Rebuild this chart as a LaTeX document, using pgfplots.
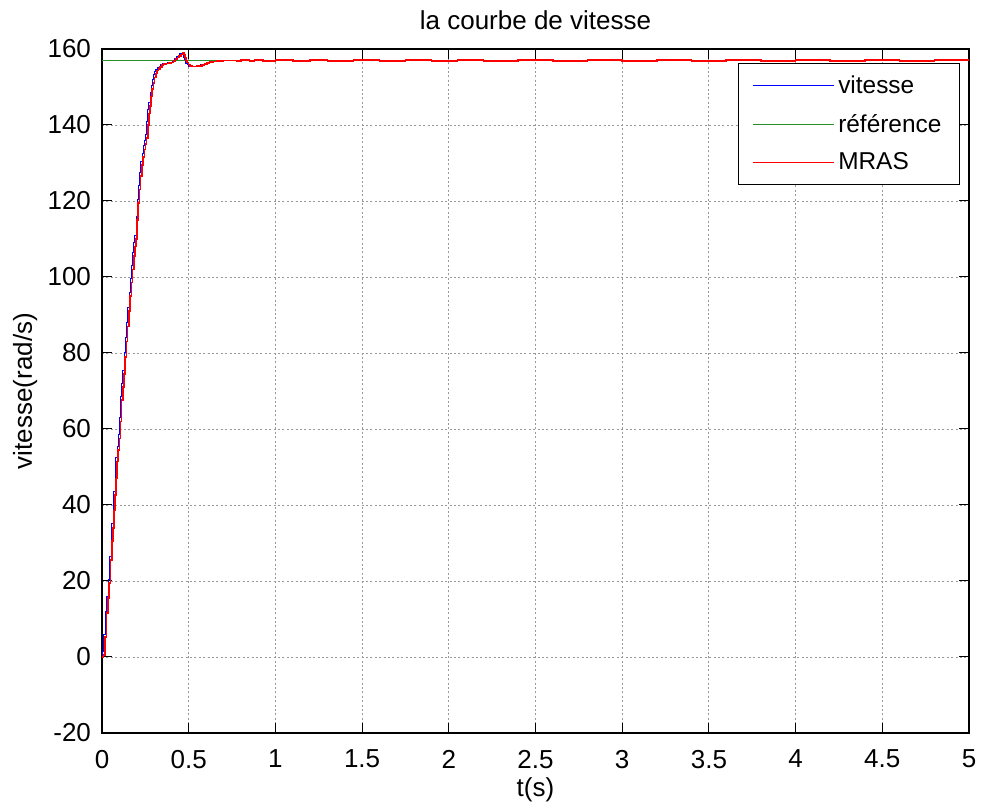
\documentclass[border=0pt]{standalone}
\usepackage{pgfplots}
\pgfplotsset{compat=1.18}
\usepackage{fontspec}
\setmainfont{Liberation Sans}
\definecolor{mgreen}{rgb}{0.15,0.55,0.15}
\pgfplotstableread{
t v
0 0
0.004 1.5
0.010 5.8
0.020 12.0
0.028 16.0
0.035 20.5
0.044 26.5
0.052 31.5
0.056 35
0.064 39.5
0.069 43.6
0.075 48
0.080 52.4
0.087 55.5
0.094 58.5
0.100 63
0.107 68.6
0.114 72
0.121 75.5
0.128 80
0.135 84
0.142 88
0.149 92
0.156 96
0.163 99.5
0.170 103
0.177 106.5
0.184 109
0.190 111
0.197 116
0.203 120.4
0.210 124
0.217 127.5
0.224 130.5
0.231 132.5
0.238 134.5
0.245 136
0.251 137.5
0.258 141
0.264 144
0.270 146
0.277 148.5
0.284 150.5
0.290 152
0.297 153.2
0.304 154
0.311 154.6
0.319 155
0.329 155.5
0.339 155.9
0.349 156.1
0.364 156.3
0.379 156.4
0.394 156.5
0.406 156.9
0.419 157.4
0.429 157.9
0.439 158.3
0.449 158.7
0.459 158.9
0.466 158.6
0.472 157.8
0.478 157.0
0.484 156.3
0.492 155.8
0.501 155.5
0.512 155.3
0.524 155.3
0.539 155.4
0.554 155.6
0.569 155.8
0.584 156.0
0.599 156.3
0.614 156.5
0.634 156.7
0.654 156.8
0.674 157.0
0.694 157.0
0.734 157.0
5 157.0
}\vitesse
\pgfplotstableread{
t v
0 0
0.008 0.5
0.016 5.2
0.026 11.5
0.034 15.5
0.041 19.4
0.050 25.5
0.058 30.5
0.062 34
0.070 38.5
0.075 42.6
0.081 47
0.086 51.4
0.093 54.5
0.100 57.5
0.106 62
0.113 67.6
0.120 71
0.127 74.5
0.134 79
0.141 83
0.148 87
0.155 91
0.162 95
0.169 98.5
0.176 102
0.183 105.5
0.190 108
0.196 110
0.203 115
0.209 119.4
0.216 123
0.223 126.5
0.230 129.5
0.237 131.5
0.244 133.5
0.251 135
0.257 136.5
0.264 140
0.270 143
0.276 145
0.283 147.5
0.290 149.5
0.296 151
0.303 152.5
0.310 153.5
0.317 154.3
0.325 154.8
0.335 155.3
0.345 155.8
0.355 156.0
0.370 156.2
0.385 156.3
0.400 156.4
0.412 156.8
0.425 157.3
0.435 157.8
0.445 158.2
0.455 158.6
0.465 158.9
0.472 158.6
0.478 157.8
0.484 157.0
0.490 156.4
0.498 155.9
0.507 155.6
0.518 155.4
0.530 155.4
0.545 155.5
0.560 155.6
0.575 155.8
0.590 156.0
0.605 156.3
0.620 156.5
0.640 156.7
0.660 156.8
0.680 156.9
0.700 157.0
0.740 157.0
0.780 156.9
0.800 157.1
0.850 156.9
0.880 157.1
0.930 156.9
1.000 157.1
1.100 156.9
1.200 157.1
1.300 156.9
1.450 157.1
1.600 156.9
1.750 157.1
1.900 156.9
2.050 157.1
2.200 156.9
2.400 157.1
2.600 156.9
2.800 157.1
3.000 156.9
3.200 157.1
3.400 156.9
3.600 157.1
3.800 156.9
4.000 157.1
4.200 156.9
4.400 157.1
4.600 156.9
4.800 157.1
5.000 157.0
}\mras
\begin{document}
\fontsize{13}{15.6}\selectfont
\begin{tikzpicture}
\begin{axis}[
  at={(0,0)}, anchor=south west,
  scale only axis,
  width=433.5pt, height=342pt,
  xmin=0, xmax=5, ymin=-20, ymax=160,
  xtick={0,0.5,...,5},
  ytick={-20,0,...,160},
  xticklabels={0,0.5,1,1.5,2,2.5,3,3.5,4,4.5,5},
  /pgf/number format/assume math mode=true,
  tick align=inside,
  major tick length=5pt,
  tick style={black, line width=0.5pt},
  axis line style={black, line width=0.7pt},
  grid=major,
  major grid style={gray!80, line width=0.4pt, dash pattern=on 1pt off 1.2pt},
  ticklabel style={font=\fontsize{13}{15.6}\selectfont},
  xticklabel style={yshift=-4pt},
  yticklabel style={xshift=-1pt},
  title={la courbe de vitesse},
  title style={at={(0.5,1)}, anchor=base, yshift=3.7pt, font=\fontsize{13}{15.6}\selectfont},
  xlabel={t(s)},
  xlabel style={at={(0.5,0)}, anchor=base, yshift=-32pt, font=\fontsize{13}{15.6}\selectfont},
  ylabel={vitesse(rad/s)},
  ylabel style={at={(0,0.5)}, anchor=base, yshift=35pt, font=\fontsize{13}{15.6}\selectfont},
  legend style={at={(0.9896,0.9795)}, anchor=north east, draw=black, line width=0.6pt,
    inner xsep=7pt, inner ysep=4pt, row sep=5pt,
    font=\fontsize{12.2}{14.6}\selectfont,
    nodes={inner sep=2pt, text depth=0.2ex}},
  legend cell align=left,
  legend image code/.code={\draw[#1, line width=0.5pt] (0pt,0pt) -- (40.5pt,0pt);},
]
\addplot[blue, line width=0.5pt, const plot] table[x=t,y=v] {\vitesse};
\addlegendentry{vitesse}
\addplot[mgreen, line width=0.5pt] coordinates {(0,157.1) (5,157.1)};
\addlegendentry{référence}
\addplot[red, line width=0.8pt, const plot] table[x=t,y=v] {\mras};
\addlegendentry{MRAS}
\end{axis}
\pgfresetboundingbox
\path[use as bounding box] (-51pt,-38pt) rectangle (439.5pt,366.5pt);
\end{tikzpicture}
\end{document}
